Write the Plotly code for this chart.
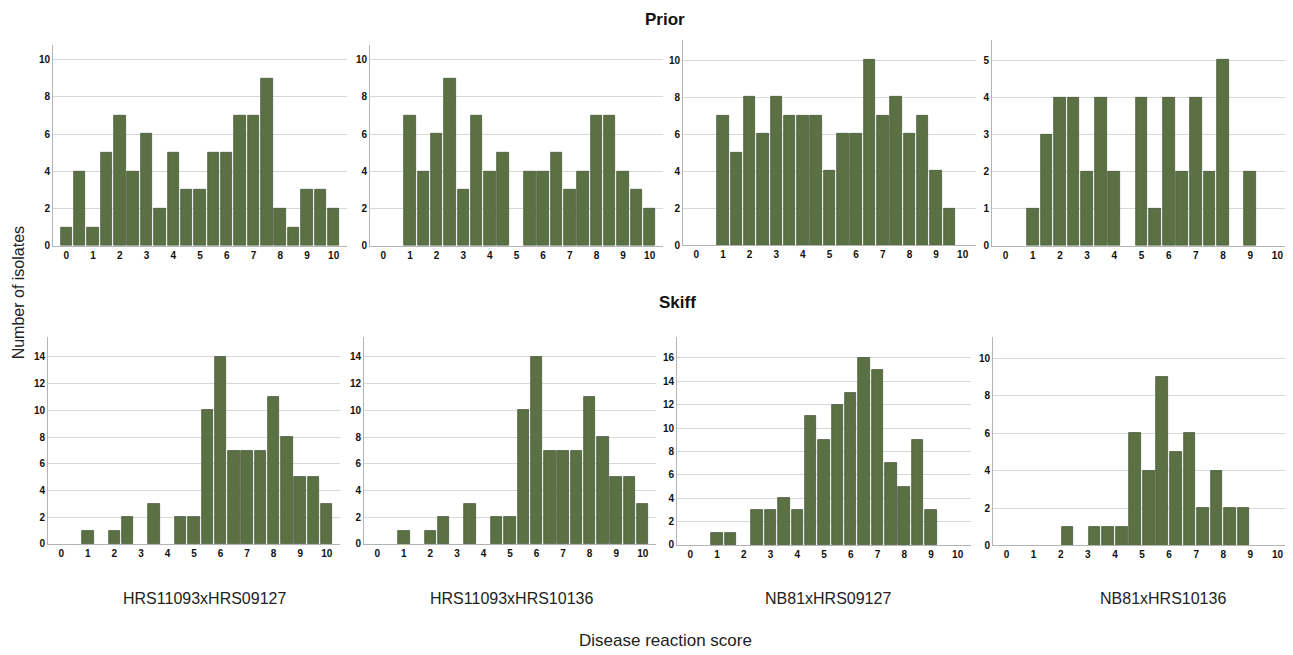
import plotly.graph_objects as go

# page shows the figure with an 8px body margin, so the figure is sized to fit
OFF = 8
W, H = 1293 - OFF, 655 - OFF

# ---- data: bin centres (score) and counts (number of isolates) ----
centers_std = [0, 0.5, 1, 1.5, 2, 2.5, 3, 3.5, 4, 4.5, 5, 5.5, 6, 6.5, 7, 7.5, 8, 8.5, 9, 9.5, 10]

prior_h09127 = [1, 4, 1, 5, 7, 4, 6, 2, 5, 3, 3, 5, 5, 7, 7, 9, 2, 1, 3, 3, 2]
prior_h10136 = [0, 0, 7, 4, 6, 9, 3, 7, 4, 5, 0, 4, 4, 5, 3, 4, 7, 7, 4, 3, 2]
prior_n09127 = [0, 0, 7, 5, 8, 6, 8, 7, 7, 7, 4, 6, 6, 10, 7, 8, 6, 7, 4, 2, 0]
prior_n10136 = [0, 0, 1, 3, 4, 4, 2, 4, 2, 0, 4, 1, 4, 2, 4, 2, 5, 0, 2, 0, 0]

skiff_h09127 = [0, 0, 1, 0, 1, 2, 0, 3, 0, 2, 2, 10, 14, 7, 7, 7, 11, 8, 5, 5, 3]
skiff_h10136 = [0, 0, 1, 0, 1, 2, 0, 3, 0, 2, 2, 10, 14, 7, 7, 7, 11, 8, 5, 5, 3]
skiff_n09127 = [0, 0, 1, 1, 0, 3, 3, 4, 3, 11, 9, 12, 13, 16, 15, 7, 5, 9, 3, 0, 0]
centers_shift = [0.25, 0.75, 1.25, 1.75, 2.25, 2.75, 3.25, 3.75, 4.25, 4.75, 5.25,
                 5.75, 6.25, 6.75, 7.25, 7.75, 8.25, 8.75, 9.25, 9.75]
skiff_n10136 = [0, 0, 0, 0, 1, 0, 1, 1, 1, 6, 4, 9, 5, 6, 2, 4, 2, 2, 0, 0]

population_labels = ["HRS11093xHRS09127", "HRS11093xHRS10136", "NB81xHRS09127", "NB81xHRS10136"]
x_ticks = [0, 1, 2, 3, 4, 5, 6, 7, 8, 9, 10]

panels = [
    # (centres, counts, y max, y dtick, x-domain px, y-domain px) in reference pixels
    (centers_std, prior_h09127, 10.8, 2, (53, 347), (45, 248)),
    (centers_std, prior_h10136, 10.8, 2, (370, 663), (45, 248)),
    (centers_std, prior_n09127, 11.1, 2, (683, 976), (40, 247.5)),
    (centers_std, prior_n10136, 5.55, 1, (992, 1291), (40, 248)),
    (centers_std, skiff_h09127, 15.5, 2, (48, 340), (340, 549)),
    (centers_std, skiff_h10136, 15.5, 2, (364, 656), (340, 549)),
    (centers_std, skiff_n09127, 17.8, 2, (677, 971), (340, 550)),
    (centers_shift, skiff_n10136, 11.15, 2, (993, 1291), (340, 550.5)),
]


def px(x):
    return (x - OFF) / W


def py(y):
    return 1 - (y - OFF) / H


BAR = "#5b7043"
EDGE = "#3e5030"
GRID = "#d8d8d8"
AXIS = "#b4b4b4"
TICKFONT = dict(family="Liberation Sans, Arial", size=10, color="#111111")
TXT = "Liberation Sans, Arial"

fig = go.Figure()
layout = dict(
    width=W, height=H,
    margin=dict(l=0, r=0, t=0, b=0),
    paper_bgcolor="white", plot_bgcolor="white",
    showlegend=False,
    bargap=0,
)

for i, (cx, cy, ymax, dt, (x0, x1), (yt, yb)) in enumerate(panels, start=1):
    xa = "x" if i == 1 else f"x{i}"
    ya = "y" if i == 1 else f"y{i}"
    fig.add_trace(go.Bar(
        x=cx, y=cy, width=0.43,
        marker=dict(color=BAR, line=dict(color=EDGE, width=[0.7 if v > 0 else 0 for v in cy])),
        xaxis=xa, yaxis=ya, hoverinfo="x+y",
    ))
    sfx = "" if i == 1 else str(i)
    yvals = list(range(0, int(ymax) + 1, dt))
    layout[f"xaxis{sfx}"] = dict(
        domain=[px(x0), min(px(x1), 1.0)], anchor=ya,
        range=[-0.5, 10.5], tickmode="array", tickvals=x_ticks,
        ticktext=[f"<b>{t}</b>" for t in x_ticks],
        showgrid=False, zeroline=False,
        showline=True, linecolor=AXIS, linewidth=1,
        ticks="", tickfont=TICKFONT, fixedrange=True,
    )
    layout[f"yaxis{sfx}"] = dict(
        domain=[py(yb), py(yt)], anchor=xa,
        range=[0, ymax], tickmode="array", tickvals=yvals,
        ticktext=[f"<b>{t}</b>" for t in yvals],
        showgrid=True, gridcolor=GRID, gridwidth=1,
        zeroline=False, showline=True, linecolor=AXIS, linewidth=1,
        ticks="", tickfont=TICKFONT, fixedrange=True,
    )

ann = [
    dict(text="<b>Prior</b>", x=px(665), y=py(20), font=dict(size=17, family=TXT, color="#111111")),
    dict(text="<b>Skiff</b>", x=px(677), y=py(305), font=dict(size=17, family=TXT, color="#111111")),
    dict(text="Disease reaction score", x=px(665), y=py(646), font=dict(size=17, family=TXT, color="#222222")),
    dict(text="Number of isolates", x=px(18), y=py(296), textangle=-90, font=dict(size=16, family=TXT, color="#222222")),
]
for lbl, xc in zip(population_labels, [204, 511, 828, 1163]):
    ann.append(dict(text=lbl, x=px(xc), y=py(604), font=dict(size=16, family=TXT, color="#222222")))
for a in ann:
    a.update(xref="paper", yref="paper", showarrow=False, xanchor="center", yanchor="middle")
layout["annotations"] = ann

fig.update_layout(**layout)
fig.write_html("out.html")
